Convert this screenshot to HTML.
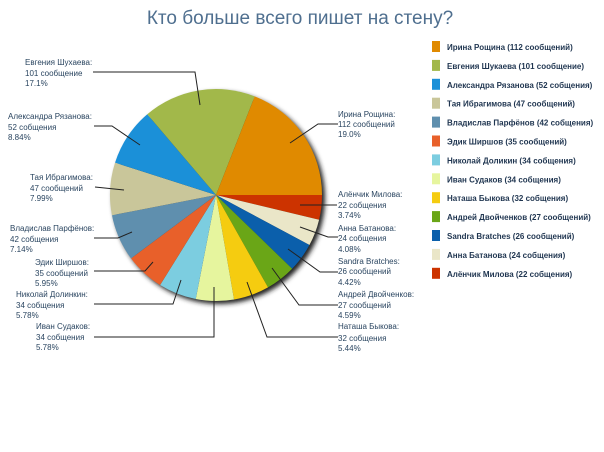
<!DOCTYPE html>
<html><head><meta charset="utf-8"><style>
body{margin:0;background:#fff;width:604px;height:452px;overflow:hidden}
svg{display:block;font-family:"Liberation Sans","DejaVu Sans",sans-serif}
.l{font-size:8px;fill:#2a4560}
.g{font-size:8px;font-weight:bold;fill:#1f3550}
</style></head><body>
<svg id="s" width="604" height="452" viewBox="0 0 604 452">
<defs><filter id="sh" x="-20%" y="-20%" width="140%" height="140%"><feGaussianBlur stdDeviation="2.5"/></filter></defs>
<text x="300" y="24" text-anchor="middle" font-size="19" fill="#4f6f8f">Кто больше всего пишет на стену?</text>
<circle cx="219" cy="198" r="106" fill="#222" filter="url(#sh)"/>
<g id="pie"></g>
<g stroke="#222" stroke-width="1" fill="none">
<polyline points="93,72 195,72 200,105"/>
<polyline points="94,126 112,126 140,145"/>
<polyline points="95,187 124,190"/>
<polyline points="94,238 118,238 132,232"/>
<polyline points="94,271 145,271 153,262"/>
<polyline points="94,304 173,304 181,280"/>
<polyline points="94,337 214,337 214,287"/>
<polyline points="290,143 318,124 338,124"/>
<polyline points="300,205 337,205"/>
<polyline points="300,227 328,237 338,237"/>
<polyline points="288,249 320,272 338,272"/>
<polyline points="272,268 299,305 338,305"/>
<polyline points="247,282 267,337 338,337"/>
</g>
<g class="l">
<text x="25" y="65">Евгения Шухаева:</text><text x="25" y="76">101 сообщение</text><text x="25" y="86">17.1%</text>
<text x="8" y="119">Александра Рязанова:</text><text x="8" y="130">52 собщения</text><text x="8" y="140">8.84%</text>
<text x="30" y="180">Тая Ибрагимова:</text><text x="30" y="191">47 сообщений</text><text x="30" y="201">7.99%</text>
<text x="10" y="231">Владислав Парфёнов:</text><text x="10" y="242">42 собщения</text><text x="10" y="252">7.14%</text>
<text x="35" y="265">Эдик Ширшов:</text><text x="35" y="276">35 сообщений</text><text x="35" y="286">5.95%</text>
<text x="16" y="297">Николай Долинкин:</text><text x="16" y="308">34 собщения</text><text x="16" y="318">5.78%</text>
<text x="36" y="329">Иван Судаков:</text><text x="36" y="340">34 собщения</text><text x="36" y="350">5.78%</text>
</g>
<g class="l">
<text x="338" y="117">Ирина Рощина:</text><text x="338" y="127">112 сообщений</text><text x="338" y="137">19.0%</text>
<text x="338" y="197">Алёнчик Милова:</text><text x="338" y="208">22 собщения</text><text x="338" y="218">3.74%</text>
<text x="338" y="231">Анна Батанова:</text><text x="338" y="241">24 собщения</text><text x="338" y="252">4.08%</text>
<text x="338" y="264">Sandra Bratches:</text><text x="338" y="274">26 сообщений</text><text x="338" y="285">4.42%</text>
<text x="338" y="297">Андрей Двойченков:</text><text x="338" y="308">27 сообщений</text><text x="338" y="318">4.59%</text>
<text x="338" y="329">Наташа Быкова:</text><text x="338" y="341">32 собщения</text><text x="338" y="351">5.44%</text>
</g>
<g id="leg"></g>
</svg>
<script>
var d=[["Ирина Рощина (112 сообщений)",112,"#e08a00"],["Евгения Шукаева (101 сообщение)",101,"#a2b84a"],["Александра Рязанова (52 собщения)",52,"#1b90d8"],["Тая Ибрагимова (47 сообщений)",47,"#c9c69a"],["Владислав Парфёнов (42 собщения)",42,"#5f8fae"],["Эдик Ширшов (35 сообщений)",35,"#e8602a"],["Николай Доликин (34 собщения)",34,"#7ccde0"],["Иван Судаков (34 собщения)",34,"#e6f59e"],["Наташа Быкова (32 собщения)",32,"#f5cc10"],["Андрей Двойченков (27 сообщений)",27,"#6aa617"],["Sandra Bratches (26 сообщений)",26,"#0b5fab"],["Анна Батанова (24 собщения)",24,"#eae6c8"],["Алёнчик Милова (22 собщения)",22,"#cc3300"]];
var ns="http://www.w3.org/2000/svg",cx=216,cy=195,r=106,a=0,T=588,pie=document.getElementById("pie"),leg=document.getElementById("leg");
for(var i=d.length-1;i>=0;i--){var b=a+d[i][1]/T*2*Math.PI;
var p=document.createElementNS(ns,"path");
p.setAttribute("d","M"+cx+","+cy+"L"+(cx+r*Math.cos(a))+","+(cy+r*Math.sin(a))+"A"+r+","+r+" 0 "+((b-a)>Math.PI?1:0)+" 1 "+(cx+r*Math.cos(b))+","+(cy+r*Math.sin(b))+"Z");
p.setAttribute("fill",d[i][2]);pie.appendChild(p);a=b;}
for(var i=0;i<d.length;i++){var y=41+i*18.9;
var q=document.createElementNS(ns,"rect");q.setAttribute("x",432);q.setAttribute("y",y);q.setAttribute("width",8);q.setAttribute("height",11);q.setAttribute("fill",d[i][2]);leg.appendChild(q);
var t=document.createElementNS(ns,"text");t.setAttribute("x",447);t.setAttribute("y",y+9);t.setAttribute("class","g");t.textContent=d[i][0];leg.appendChild(t);}
</script>
</body></html>
